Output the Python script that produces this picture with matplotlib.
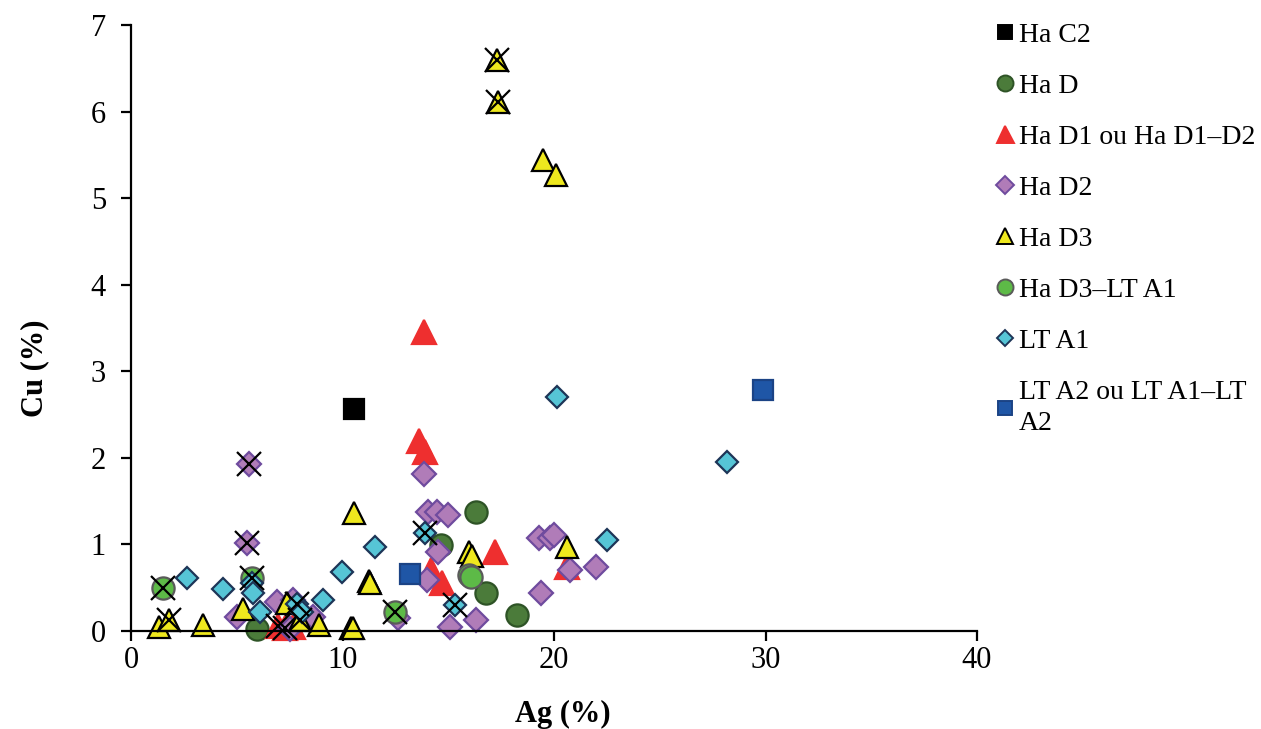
import numpy as np
import matplotlib
matplotlib.use("Agg")
import matplotlib.pyplot as plt

plt.rcParams['font.family'] = ['Liberation Serif', 'DejaVu Serif']

# Ag (%) / Cu (%) per period; crossed = 1 where the point carries a black X
haC2_ag = [10.55]
haC2_cu = [2.56]
haC2_crossed = [0]

haD_ag = [5.96, 16.3, 14.66, 16.78, 18.25]
haD_cu = [0.02, 1.37, 0.99, 0.44, 0.18]
haD_crossed = [0, 0, 0, 0, 0]

haD1_ag = [13.85, 13.6, 13.9, 17.2, 14.2, 14.7, 20.6, 6.95, 7.3, 7.65]
haD1_cu = [3.45, 2.2, 2.07, 0.91, 0.7, 0.55, 0.74, 0.06, 0.03, 0.05]
haD1_crossed = [0, 0, 0, 0, 0, 0, 0, 1, 1, 0]

haD2_ag = [5.58, 5.48, 13.85, 14.05, 14.45, 15.0, 14.5, 14.0, 15.1, 16.3,
           19.4, 19.3, 19.8, 20.0, 20.75, 22.0, 12.6, 5.0, 6.9, 7.65, 8.6, 7.5]
haD2_cu = [1.93, 1.02, 1.81, 1.37, 1.38, 1.34, 0.91, 0.59, 0.05, 0.13,
           0.44, 1.07, 1.07, 1.11, 0.70, 0.74, 0.15, 0.16, 0.33, 0.36, 0.16, 0.02]
haD2_crossed = [1, 1, 0, 0, 0, 0, 0, 0, 0, 0,
                0, 0, 0, 0, 0, 0, 0, 0, 0, 0, 0, 0]

haD3_ag = [17.3, 17.35, 19.5, 20.1, 10.55, 11.25, 11.3, 16.0, 16.1, 20.6,
           1.3, 1.8, 3.4, 5.3, 7.37, 8.0, 8.9, 10.4, 10.5]
haD3_cu = [6.6, 6.11, 5.44, 5.27, 1.36, 0.58, 0.55, 0.91, 0.87, 0.97,
           0.05, 0.13, 0.07, 0.25, 0.32, 0.13, 0.07, 0.03, 0.03]
haD3_crossed = [1, 1, 0, 0, 0, 0, 0, 0, 0, 0,
                0, 1, 0, 0, 0, 1, 0, 0, 0]

haD3LTA1_ag = [1.51, 5.7, 12.5, 16.0, 16.08]
haD3LTA1_cu = [0.50, 0.61, 0.22, 0.65, 0.62]
haD3LTA1_crossed = [1, 1, 1, 0, 0]

ltA1_ag = [2.65, 4.35, 5.7, 5.75, 6.1, 7.85, 8.1, 9.1, 9.96, 11.55,
           13.9, 15.3, 20.15, 22.5, 28.2]
ltA1_cu = [0.61, 0.49, 0.56, 0.44, 0.22, 0.31, 0.22, 0.36, 0.68, 0.97,
           1.13, 0.30, 2.70, 1.05, 1.95]
ltA1_crossed = [0, 0, 0, 0, 0, 1, 0, 0, 0, 0, 1, 1, 0, 0, 0]

ltA2_ag = [13.2, 29.9]
ltA2_cu = [0.66, 2.78]
ltA2_crossed = [0, 0]

series = [
    ("Ha C2", haC2_ag, haC2_cu, haC2_crossed, 's', 14, '#000000', '#000000'),
    ("Ha D", haD_ag, haD_cu, haD_crossed, 'o', 16, '#4b7b3a', '#2e5326'),
    ("Ha D1 ou Ha D1\u2013D2", haD1_ag, haD1_cu, haD1_crossed, '^', 17, '#ee2f2f', '#ee2f2f'),
    ("Ha D2", haD2_ag, haD2_cu, haD2_crossed, 'D', 12.5, '#b07cb8', '#6f4b9e'),
    ("Ha D3", haD3_ag, haD3_cu, haD3_crossed, '^', 16.5, '#eee81e', '#000000'),
    ("Ha D3\u2013LT A1", haD3LTA1_ag, haD3LTA1_cu, haD3LTA1_crossed, 'o', 16, '#5dba47', '#5a5a5a'),
    ("LT A1", ltA1_ag, ltA1_cu, ltA1_crossed, 'D', 11.5, '#56c5d6', '#1d3557'),
    ("LT A2 ou LT A1\u2013LT\nA2", ltA2_ag, ltA2_cu, ltA2_crossed, 's', 14.5, '#1f56a6', '#1b4385'),
]

fig = plt.figure(figsize=(12.61, 7.29), dpi=100)
ax = fig.add_axes([0.1039, 0.1344, 0.6709, 0.8313])

handles = []
for label, xs, ys, crossed, marker, ms, face, edge in series:
    ax.plot(xs, ys, linestyle='none', marker=marker, markersize=ms,
            markerfacecolor=face, markeredgecolor=edge, markeredgewidth=1.6,
            clip_on=False)
    h, = ax.plot([], [], linestyle='none', marker=marker, markersize=ms * 0.72,
                 markerfacecolor=face, markeredgecolor=edge, markeredgewidth=1.4,
                 label=label)
    handles.append(h)

# black crosses on top of the flagged samples
for label, xs, ys, crossed, marker, ms, face, edge in series:
    cx = [x for x, c in zip(xs, crossed) if c]
    cy = [y for y, c in zip(ys, crossed) if c]
    ax.plot(cx, cy, linestyle='none', marker='x', markersize=17,
            markeredgecolor='black', markeredgewidth=1.6, clip_on=False)

ax.set_xlim(0, 40)
ax.set_ylim(0, 7)
ax.set_xticks([0, 10, 20, 30, 40])
ax.set_yticks(np.arange(0, 8, 1))
ax.spines['top'].set_visible(False)
ax.spines['right'].set_visible(False)
for s in ['left', 'bottom']:
    ax.spines[s].set_linewidth(1.6)
ax.tick_params(axis='both', direction='out', length=7, width=1.6, labelsize=22)
ax.tick_params(axis='y', pad=11)
ax.tick_params(axis='x', pad=4)

ax.set_xlabel("Ag (%)", fontsize=22, fontweight='bold')
ax.xaxis.set_label_coords(0.51, -0.113)
ax.set_ylabel("Cu (%)", fontsize=22, fontweight='bold')
ax.yaxis.set_label_coords(-0.097, 0.434)

leg = ax.legend(handles=handles, loc='upper left', bbox_to_anchor=(1.0, 1.036),
                frameon=False, fontsize=20, handlelength=0.6, handletextpad=0.2,
                labelspacing=0.92, borderaxespad=0.3)
for t in leg.get_texts():
    t.set_linespacing(1.35)

fig.savefig("out.png", dpi=100)
